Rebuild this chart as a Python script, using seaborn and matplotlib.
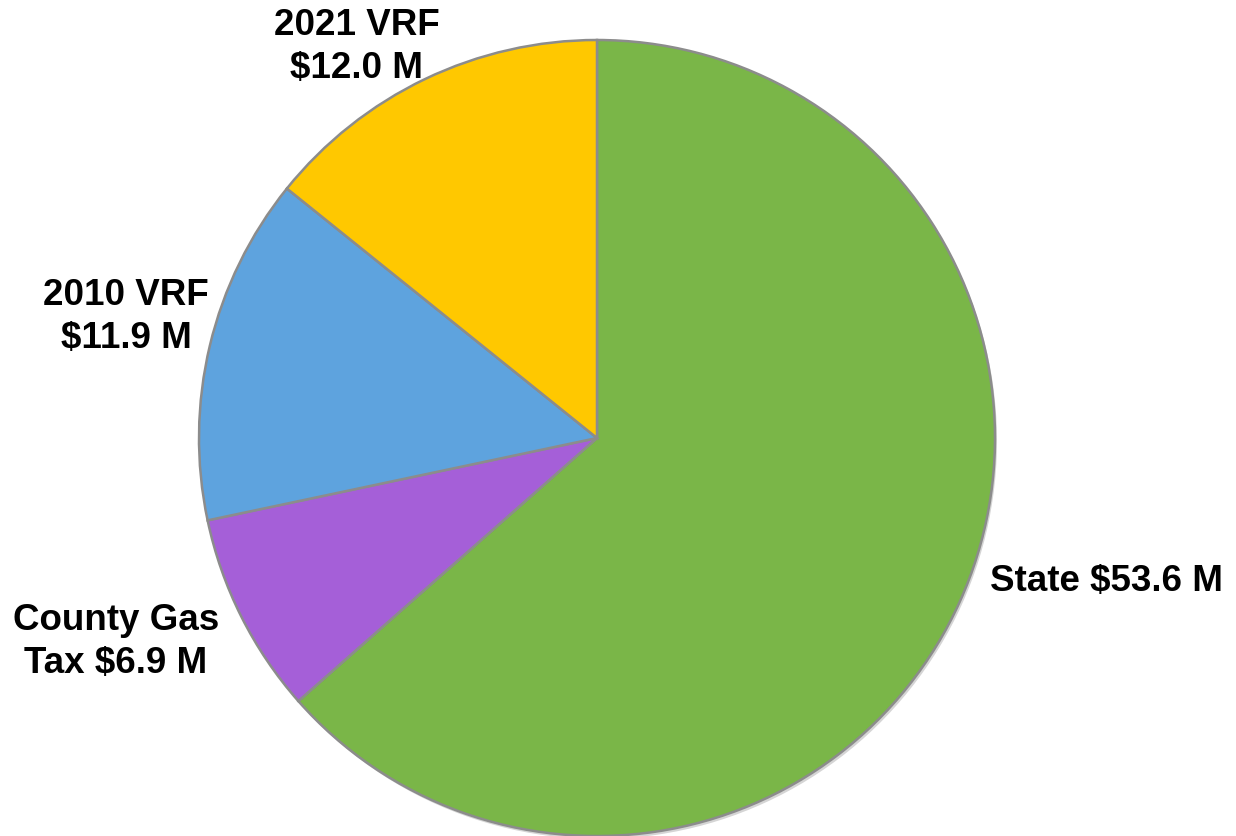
import matplotlib
matplotlib.use("Agg")
import matplotlib.pyplot as plt
import seaborn as sns

# Funding sources (millions of dollars)
sources = ["State", "County Gas\nTax", "2010 VRF", "2021 VRF"]
amounts = [53.6, 6.9, 11.9, 12.0]
colors = ["#7ab648", "#a55fd8", "#5ea3de", "#ffc800"]

sns.set_theme(style="white")
plt.rcParams["font.family"] = ["Liberation Sans", "DejaVu Sans"]

fig = plt.figure(figsize=(12.36, 8.36), dpi=100)
ax = fig.add_axes([0, 0, 1, 1])

cx, cy, r = 597, 398, 398

# soft drop shadow under the pie
ax.pie(amounts, colors=["#b9b9b9"] * len(amounts), startangle=90,
       counterclock=False, radius=r, center=(cx + 2, cy - 3),
       wedgeprops=dict(linewidth=0, alpha=0.6), frame=True)

wedges, _ = ax.pie(amounts, colors=colors, startangle=90, counterclock=False,
                   radius=r, center=(cx, cy), frame=True,
                   wedgeprops=dict(edgecolor="#8c8c8c", linewidth=1.8))
ax.set_xlim(0, 1236)
ax.set_ylim(0, 836)
ax.set_aspect("equal")
ax.axis("off")


def label(name, value):
    if name == "State" or name.endswith("\nTax"):
        return f"{name} ${value:.1f} M"
    return f"{name}\n${value:.1f} M"


label_pos = {
    "State": (990, 254, "left"),
    "County Gas\nTax": (116, 194, "center"),
    "2010 VRF": (126, 519, "center"),
    "2021 VRF": (357, 789, "center"),
}

for name, value in zip(sources, amounts):
    x, y, ha = label_pos[name]
    ax.text(x, y, label(name, value), ha=ha, va="center", fontsize=26.5,
            fontweight="bold", color="black", linespacing=1.3)

fig.savefig("out.png", dpi=100, facecolor="white")
